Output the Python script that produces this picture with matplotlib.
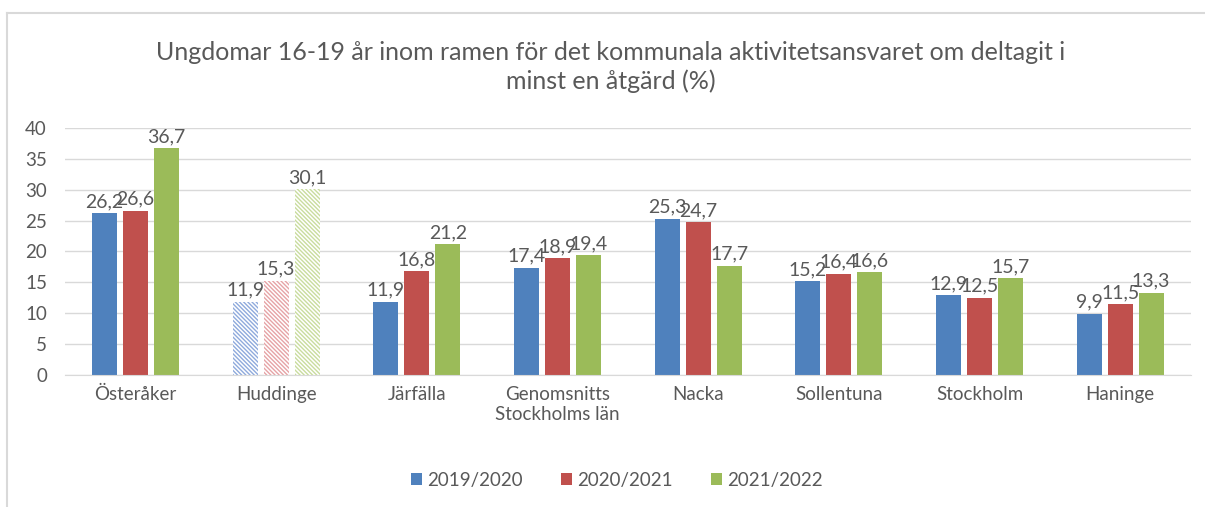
import numpy as np
import matplotlib.pyplot as plt
from matplotlib.lines import Line2D

plt.rcParams['font.family'] = ['Lato', 'DejaVu Sans']
plt.rcParams['hatch.linewidth'] = 1.0

categories = ['Österåker', 'Huddinge', 'Järfälla', 'Genomsnitts\nStockholms län',
              'Nacka', 'Sollentuna', 'Stockholm', 'Haninge']
series_names = ['2019/2020', '2020/2021', '2021/2022']
v2019 = [26.2, 11.9, 11.9, 17.4, 25.3, 15.2, 12.9, 9.9]
v2020 = [26.6, 15.3, 16.8, 18.9, 24.7, 16.4, 12.5, 11.5]
v2021 = [36.7, 30.1, 21.2, 19.4, 17.7, 16.6, 15.7, 13.3]
hatched_category = 'Huddinge'

colors = ['#4F81BD', '#C0504D', '#9BBB59']
light = ['#8FAADC', '#E6A3A6', '#C9DC9E']
text_col = '#595959'

fig = plt.figure(figsize=(12.05, 5.07), dpi=100)
ax = fig.add_axes([0.054, 0.2604, 0.934, 0.4871])

x = np.arange(len(categories))
w = 0.178
step = 0.22
for k, (vals, c, lc, name) in enumerate(zip([v2019, v2020, v2021], colors, light, series_names)):
    pos = x + (k - 1) * step
    for i, v in enumerate(vals):
        if categories[i] == hatched_category:
            ax.bar(pos[i], v, w, facecolor='white', edgecolor=lc, hatch='\\' * 8, linewidth=0)
        else:
            ax.bar(pos[i], v, w, color=c)
        ax.text(pos[i], v + 0.5, f'{v:.1f}'.replace('.', ','), ha='center', va='bottom',
                fontsize=14, color=text_col)
    ax.bar(0, 0, 0, color=c, label=name)

ax.set_xlim(-0.5, len(categories) - 0.5)
ax.set_ylim(0, 40)
ax.set_yticks(range(0, 41, 5))
ax.set_xticks(x)
ax.set_xticklabels(categories)
ax.tick_params(length=0, labelsize=13.5, colors=text_col)
ax.tick_params(axis='x', pad=8)
ax.tick_params(axis='y', pad=13)
ax.grid(axis='y', color='#D9D9D9', linewidth=1)
ax.set_axisbelow(True)
for s in ['top', 'right', 'left']:
    ax.spines[s].set_visible(False)
ax.spines['bottom'].set_color('#D9D9D9')

fig.text(0.507, 0.868, 'Ungdomar 16-19 år inom ramen för det kommunala aktivitetsansvaret om deltagit i\nminst en åtgärd (%)',
         ha='center', va='center', fontsize=18, color=text_col, linespacing=1.3)

leg = fig.legend(loc='center', bbox_to_anchor=(0.512, 0.053), ncol=3, frameon=False,
                 fontsize=13.5, handlelength=0.6, handleheight=0.6, handletextpad=0.3,
                 columnspacing=2.0)
for t in leg.get_texts():
    t.set_color(text_col)

# chart frame (top and left edges visible)
fig.add_artist(Line2D([7 / 1205, 1.0], [1 - 13 / 507] * 2, color='#D9D9D9', linewidth=1.5))
fig.add_artist(Line2D([7 / 1205] * 2, [0, 1 - 13 / 507], color='#D9D9D9', linewidth=1.5))

fig.savefig('out.png', dpi=100)
